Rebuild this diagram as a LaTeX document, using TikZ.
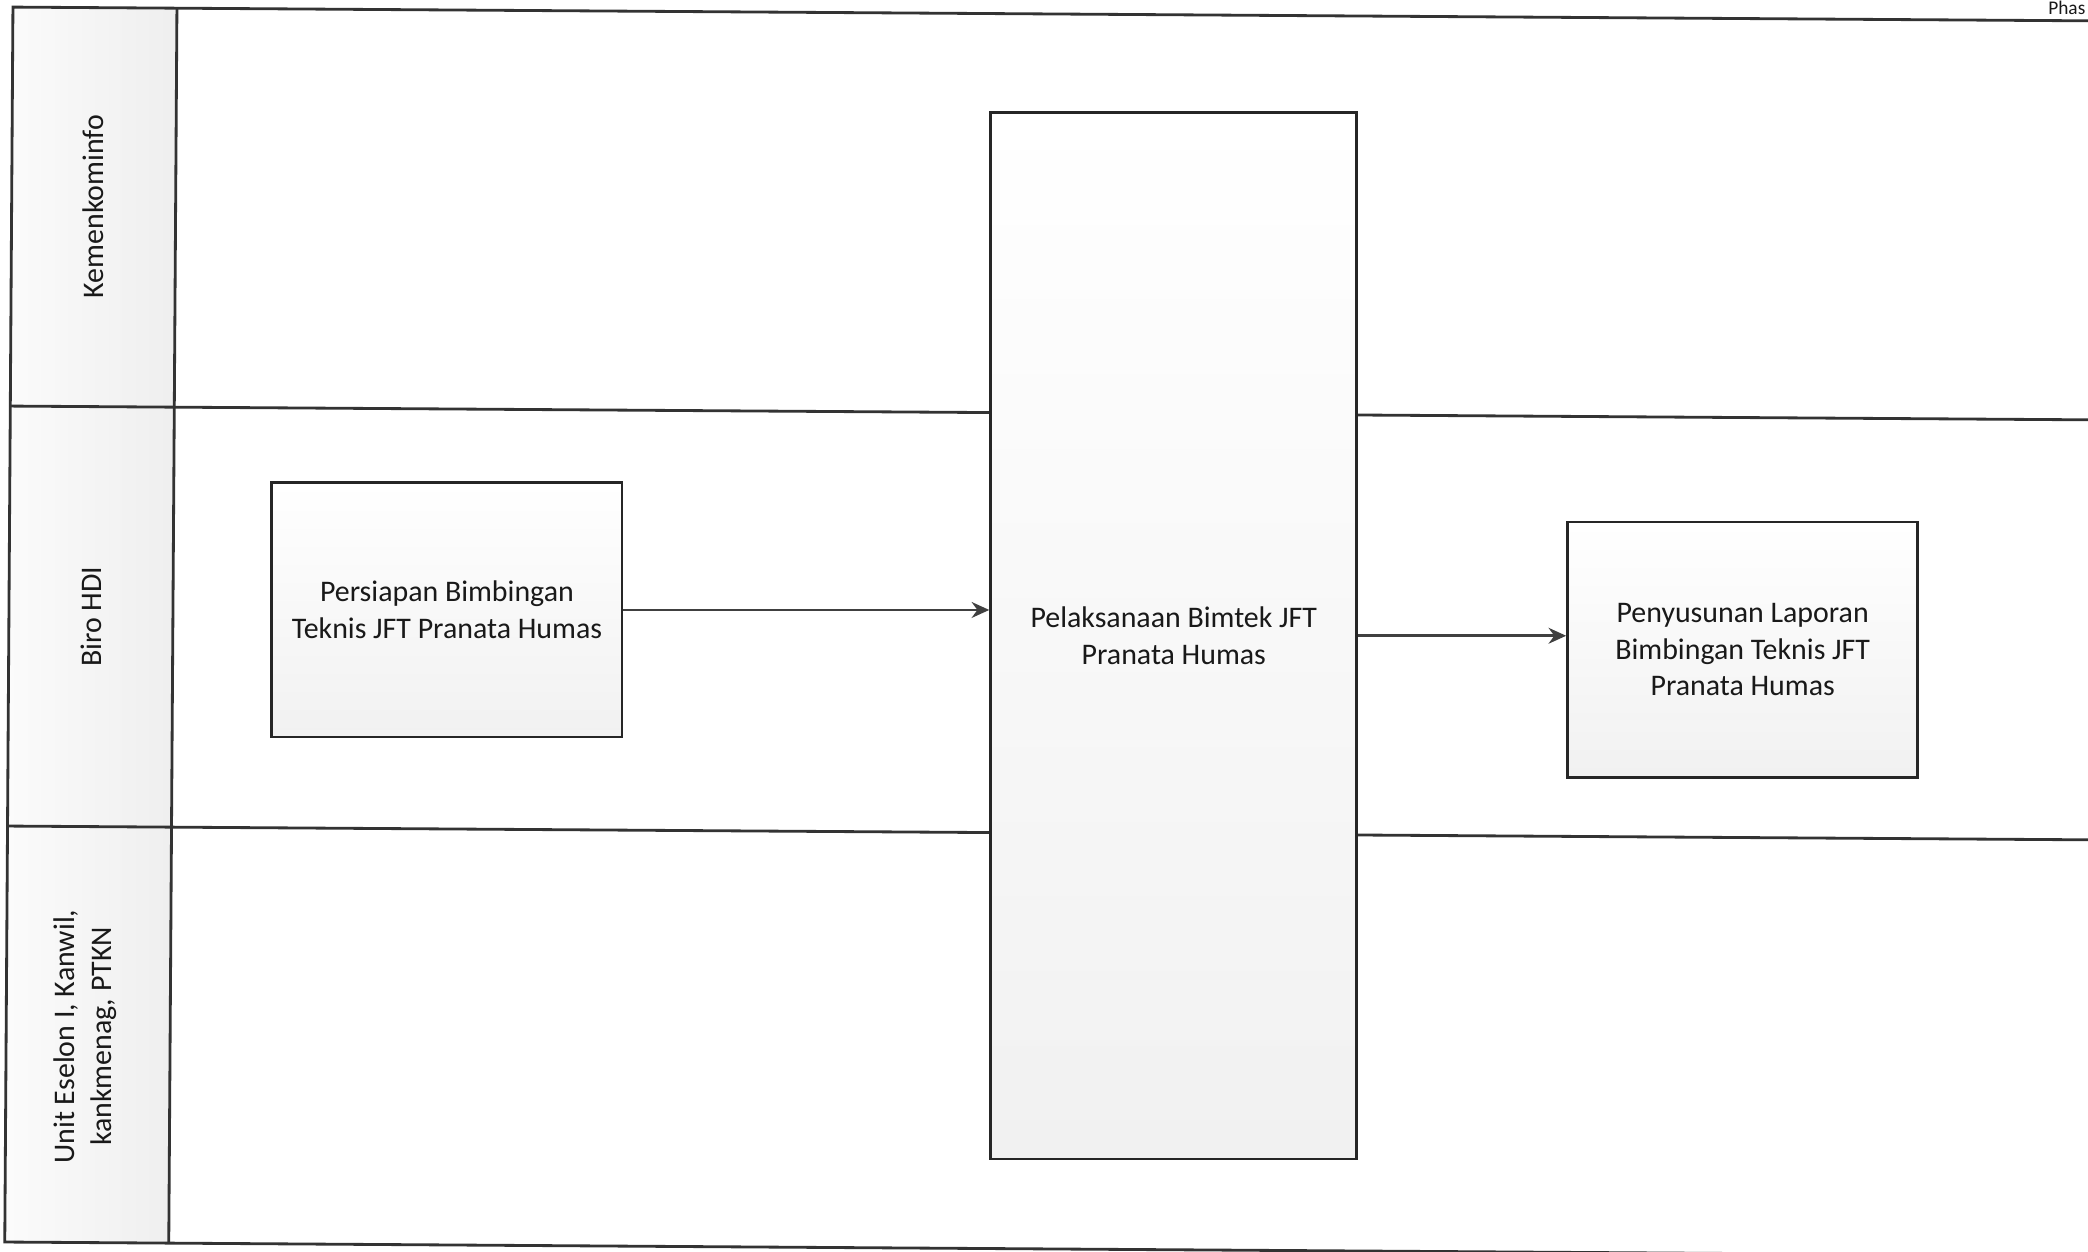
\documentclass[tikz,border=0pt]{standalone}
\usepackage{fontspec}
\setmainfont{Carlito}
\usetikzlibrary{arrows.meta}

\begin{document}
\begin{tikzpicture}[x=0.01cm,y=-0.01cm,
  every node/.style={font=\fontsize{8.5}{10.5}\selectfont,text=black!90},
  proses/.style={draw=black!85,line width=0.8pt,top color=white,bottom color=gray!11,
    align=center,inner sep=0pt},
  lajur/.style={rotate=90,align=center},
  garis/.style={draw=black!80,line width=0.8pt},
  alur/.style={draw=black!75,line width=0.8pt,-{Stealth[length=5pt,width=4.5pt]}}]
\useasboundingbox (0,0) rectangle (2088,1251);
\clip (0,0) rectangle (2088,1251);
\node[font=\fontsize{5.5}{6}\selectfont,anchor=base east,inner sep=0pt] (fase) at (2086,14) {Phas};
\begin{scope}[rotate=-0.38]
% kolom nama lajur
\shade[left color=gray!3,right color=gray!13] (13,7) rectangle (177,1242);
\draw[garis] (2110,7) -- (13,7) -- (13,1242) -- (2110,1242);
\draw[garis] (177,7) -- (177,1242);
\draw[garis] (13,406) -- (2110,406);
\draw[garis] (13,826) -- (2110,826);
\node[lajur] (kominfo) at (95,206) {Kemenkominfo};
\node[lajur] (biro) at (95,616) {Biro HDI};
\node[lajur] (unit) at (92,1036) {Unit Eselon I, Kanwil,\\kankmenag, PTKN};
% proses
\node[proses,minimum width=3.5cm,minimum height=2.54cm] (persiapan) at (451,607)
  {Persiapan Bimbingan\\Teknis JFT Pranata Humas};
\node[proses,minimum width=3.66cm,minimum height=10.46cm] (pelaksanaan) at (1178,628)
  {Pelaksanaan Bimtek JFT\\Pranata Humas};
\node[proses,minimum width=3.5cm,minimum height=2.55cm] (laporan) at (1747,638)
  {Penyusunan Laporan\\Bimbingan Teknis JFT\\Pranata Humas};
\end{scope}
\draw[alur] (persiapan.east) -- (persiapan.east -| pelaksanaan.west);
\draw[alur] (pelaksanaan.east) -- (pelaksanaan.east -| laporan.west);
\end{tikzpicture}
\end{document}
